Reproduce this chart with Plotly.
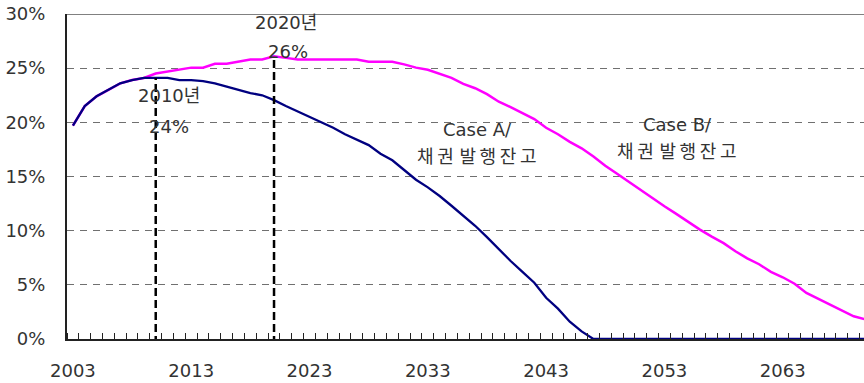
import plotly.graph_objects as go

# Years on the category axis
years = list(range(2003, 2071))

# Share of bond issuance outstanding (%), Case A
case_a = [
    19.7, 21.5, 22.4, 23.0, 23.6, 23.9, 24.1,            # 2003-2009
    24.1, 24.1, 23.9, 23.9, 23.8, 23.6, 23.3, 23.0, 22.7, 22.5,  # 2010-2019
    22.05, 21.5, 21.0, 20.5, 20.0, 19.5, 18.9, 18.4, 17.9, 17.1,  # 2020-2029
    16.5, 15.6, 14.7, 14.0, 13.2, 12.3, 11.4, 10.45, 9.4, 8.3,    # 2030-2039
    7.2, 6.2, 5.2, 3.8, 2.8, 1.6, 0.7, 0.0, 0.0, 0.0,             # 2040-2049
    0.0, 0.0, 0.0, 0.0, 0.0, 0.0, 0.0, 0.0, 0.0, 0.0,             # 2050-2059
    0.0, 0.0, 0.0, 0.0, 0.0, 0.0, 0.0, 0.0, 0.0, 0.0,             # 2060-2069
    0.0,                                                          # 2070
]

# Share of bond issuance outstanding (%), Case B
case_b = [
    19.7, 21.5, 22.4, 23.0, 23.6, 23.9, 24.1,            # 2003-2009
    24.5, 24.7, 24.9, 25.05, 25.05, 25.4, 25.4, 25.6, 25.8, 25.8,  # 2010-2019
    26.1, 25.95, 25.8, 25.8, 25.8, 25.8, 25.8, 25.8, 25.6, 25.6,   # 2020-2029
    25.6, 25.35, 25.05, 24.85, 24.5, 24.1, 23.55, 23.15, 22.6, 21.9,  # 2030-2039
    21.4, 20.85, 20.3, 19.5, 18.9, 18.2, 17.6, 16.85, 16.0, 15.25,    # 2040-2049
    14.5, 13.7, 12.95, 12.25, 11.55, 10.8, 10.1, 9.45, 8.85, 8.1,     # 2050-2059
    7.45, 6.9, 6.2, 5.7, 5.1, 4.25, 3.7, 3.15, 2.6, 2.1,              # 2060-2069
    1.8,                                                              # 2070
]

x_tick_years = [2003, 2013, 2023, 2033, 2043, 2053, 2063]
x_tick_text = [str(y) for y in x_tick_years]
y_tick_vals = [0, 5, 10, 15, 20, 25, 30]
y_tick_text = [f"{v}%" for v in y_tick_vals]

FONT = "DejaVu Sans, Noto Sans CJK KR, sans-serif"
TXT = "#333333"

fig = go.Figure()
fig.add_trace(go.Scatter(x=years, y=case_b, mode="lines",
                         line=dict(color="#FF00FF", width=2.5),
                         name="Case B", hoverinfo="skip"))
fig.add_trace(go.Scatter(x=years, y=case_a, mode="lines",
                         line=dict(color="#000080", width=2.3),
                         name="Case A", hoverinfo="skip"))

# Vertical markers for 2010 (Case A) and 2020 (Case B)
i2010 = years.index(2010)
i2020 = years.index(2020)
for xv, top in [(2010, case_a[i2010]), (2020, case_b[i2020])]:
    fig.add_shape(type="line", xref="x", yref="y", x0=xv, x1=xv, y0=-0.45, y1=top,
                  line=dict(color="black", width=2.5, dash="8px,4px"), layer="above")

# Top border of the plot area
fig.add_shape(type="line", xref="paper", yref="y", x0=0, x1=1, y0=30, y1=30,
              line=dict(color="#808080", width=2), layer="above")

TS = "\u2009"  # thin space for looser Hangul spacing
bond_label = f"채{TS}권 발{TS}행{TS}잔{TS}고"
labels = [
    ("2020년", 2021.04, 29.2),
    ("26%", 2021.18, 26.53),
    ("2010년", 2011.09, 22.44),
    ("24%", 2011.15, 19.61),
    ("Case A/", 2037.16, 19.31),
    (bond_label, 2037.1, 16.85),
    ("Case B/", 2054.12, 19.77),
    (bond_label, 2053.98, 17.31),
]
for text, xv, yv in labels:
    fig.add_annotation(x=xv, y=yv, text=text, showarrow=False,
                       xanchor="center", yanchor="middle",
                       font=dict(family=FONT, size=18, color=TXT))

fig.update_layout(
    width=864, height=383,
    margin=dict(l=67, r=0, t=14, b=44),
    paper_bgcolor="white", plot_bgcolor="white",
    showlegend=False,
    font=dict(family=FONT, size=18, color=TXT),
)
fig.update_xaxes(
    range=[2002.5, 2069.87],
    tickvals=x_tick_years, ticktext=x_tick_text,
    ticks="", showgrid=False, zeroline=False,
    showline=True, linecolor="#222222", linewidth=2,
    ticklabelstandoff=14,
    tickfont=dict(family=FONT, size=18, color=TXT),
    minor=dict(tick0=2002.5, dtick=1, ticks="inside", ticklen=6,
               tickcolor="#222222", tickwidth=1, showgrid=False),
)
fig.update_yaxes(
    range=[0, 30],
    tickvals=y_tick_vals, ticktext=y_tick_text,
    ticks="", showgrid=True, gridcolor="#707070", gridwidth=1.2,
    griddash="7px,6px", zeroline=False,
    showline=True, linecolor="#222222", linewidth=2,
    ticklabelstandoff=16,
    tickfont=dict(family=FONT, size=18, color=TXT),
)

fig.write_html("out.html")
